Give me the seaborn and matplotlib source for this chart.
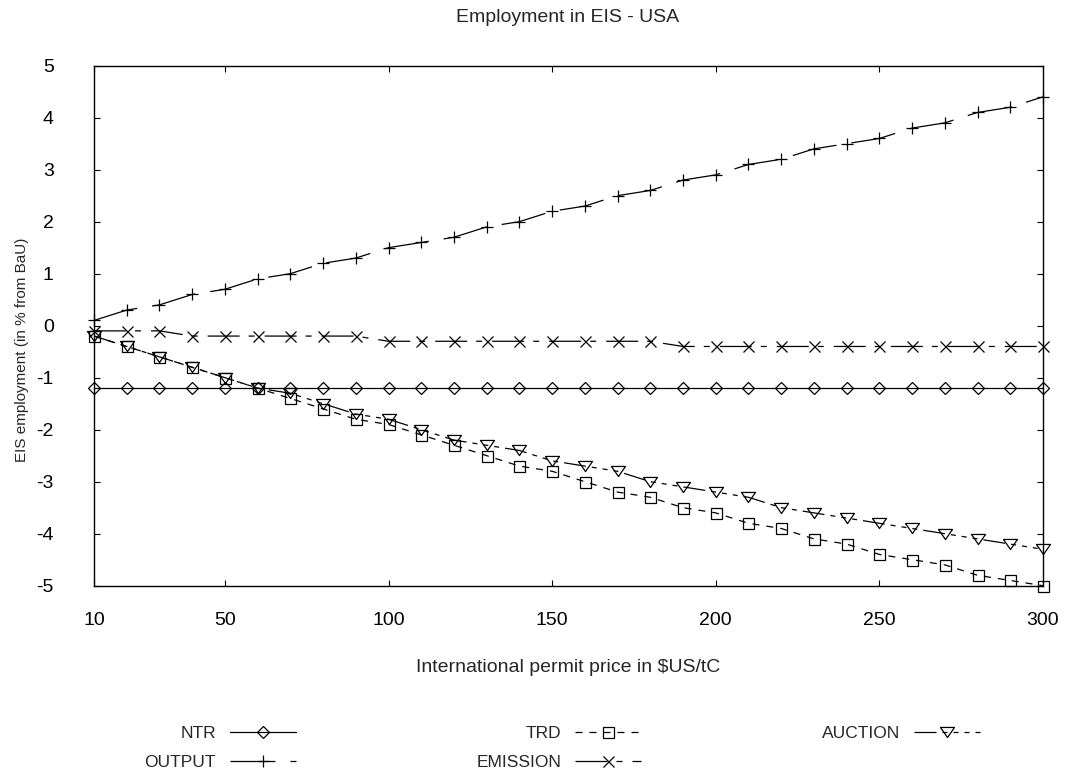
import numpy as np
import pandas as pd
import seaborn as sns
import matplotlib
matplotlib.use("Agg")
from matplotlib import pyplot as plt

# permit price ($US/tC) and EIS employment change (% from BaU)
price = [10, 20, 30, 40, 50, 60, 70, 80, 90, 100,
         110, 120, 130, 140, 150, 160, 170, 180, 190, 200,
         210, 220, 230, 240, 250, 260, 270, 280, 290, 300]
ntr = [-1.2, -1.2, -1.2, -1.2, -1.2, -1.2, -1.2, -1.2, -1.2, -1.2,
       -1.2, -1.2, -1.2, -1.2, -1.2, -1.2, -1.2, -1.2, -1.2, -1.2,
       -1.2, -1.2, -1.2, -1.2, -1.2, -1.2, -1.2, -1.2, -1.2, -1.2]
output = [0.1, 0.3, 0.4, 0.6, 0.7, 0.9, 1.0, 1.2, 1.3, 1.5,
          1.6, 1.7, 1.9, 2.0, 2.2, 2.3, 2.5, 2.6, 2.8, 2.9,
          3.1, 3.2, 3.4, 3.5, 3.6, 3.8, 3.9, 4.1, 4.2, 4.4]
trd = [-0.2, -0.4, -0.6, -0.8, -1.0, -1.2, -1.4, -1.6, -1.8, -1.9,
       -2.1, -2.3, -2.5, -2.7, -2.8, -3.0, -3.2, -3.3, -3.5, -3.6,
       -3.8, -3.9, -4.1, -4.2, -4.4, -4.5, -4.6, -4.8, -4.9, -5.0]
emission = [-0.1, -0.1, -0.1, -0.2, -0.2, -0.2, -0.2, -0.2, -0.2, -0.3,
            -0.3, -0.3, -0.3, -0.3, -0.3, -0.3, -0.3, -0.3, -0.4, -0.4,
            -0.4, -0.4, -0.4, -0.4, -0.4, -0.4, -0.4, -0.4, -0.4, -0.4]
auction = [-0.2, -0.4, -0.6, -0.8, -1.0, -1.2, -1.3, -1.5, -1.7, -1.8,
           -2.0, -2.2, -2.3, -2.4, -2.6, -2.7, -2.8, -3.0, -3.1, -3.2,
           -3.3, -3.5, -3.6, -3.7, -3.8, -3.9, -4.0, -4.1, -4.2, -4.3]
xticks = [10, 50, 100, 150, 200, 250, 300]
yticks = [-5, -4, -3, -2, -1, 0, 1, 2, 3, 4, 5]

PX = 0.72  # points per pixel at dpi 100
tri_down = [(-1, 0.72), (1, 0.72), (0, -0.72), (-1, 0.72)]

# name, values, marker, marker size (px), dash pattern (px) -- legend order
series = [
    ("NTR", ntr, "D", 8.5, None),
    ("OUTPUT", output, "+", 12, (45, 15)),
    ("TRD", trd, "s", 11, (7, 7)),
    ("EMISSION", emission, "x", 11, (32, 9, 6, 10)),
    ("AUCTION", auction, tri_down, 14, (22, 6, 5, 6, 5, 6, 5, 6)),
]


def main():
    sns.set_theme(style="ticks")
    plt.rcParams['font.family'] = ['Liberation Sans', 'DejaVu Sans']
    plt.rcParams['lines.scale_dashes'] = False
    plt.rcParams['axes.unicode_minus'] = False

    fig = plt.figure(figsize=(10.66, 7.78), dpi=100)
    ax = fig.add_axes([0.0882, 0.2472, 0.8902, 0.6684])

    handles = []
    for name, vals, mk, ms, dash in series:
        df = pd.DataFrame({"price": price, "value": vals})
        ls = "-" if dash is None else (0, tuple(d * PX for d in dash))
        sns.lineplot(data=df, x="price", y="value", ax=ax, color="black",
                     marker=mk, ms=ms * PX, mfc="none", mec="black", mew=0.9,
                     lw=0.9, linestyle=ls, clip_on=False, errorbar=None,
                     legend=False)
        handles.append(ax.lines[-1])

    ax.set_xlim(10, 300)
    ax.set_ylim(-5, 5)
    ax.set_xticks(xticks)
    ax.set_yticks(yticks)
    ax.tick_params(axis="both", direction="in", length=4.5, width=0.8,
                   top=True, right=True, labelsize=14, colors="black")
    ax.tick_params(axis="x", pad=19)
    ax.tick_params(axis="y", pad=29)
    for sp in ax.spines.values():
        sp.set_color("black")
        sp.set_linewidth(1.0)

    ax.set_xlabel("International permit price in $US/tC", fontsize=14,
                  va="center")
    ax.xaxis.set_label_coords(0.5, (585.7 - 668) / 520)
    ax.set_ylabel("EIS employment (in % from BaU)", fontsize=11, va="center")
    ax.yaxis.set_label_coords((22 - 94) / 949, (585.7 - 350) / 520)

    fig.text(568 / 1066, 1 - 18 / 778, "Employment in EIS - USA",
             ha="center", va="center", fontsize=14)

    labels = [s[0] for s in series]
    fig.legend(handles, labels, ncol=3, loc="center",
               bbox_to_anchor=(562 / 1066, 1 - 748 / 778),
               frameon=False, markerfirst=False, fontsize=12.5,
               handlelength=3.8, handletextpad=0.8, columnspacing=10.4,
               labelspacing=0.75, borderpad=0, numpoints=1)

    fig.savefig("out.png", dpi=100, facecolor="white")


if __name__ == '__main__':
    main()
